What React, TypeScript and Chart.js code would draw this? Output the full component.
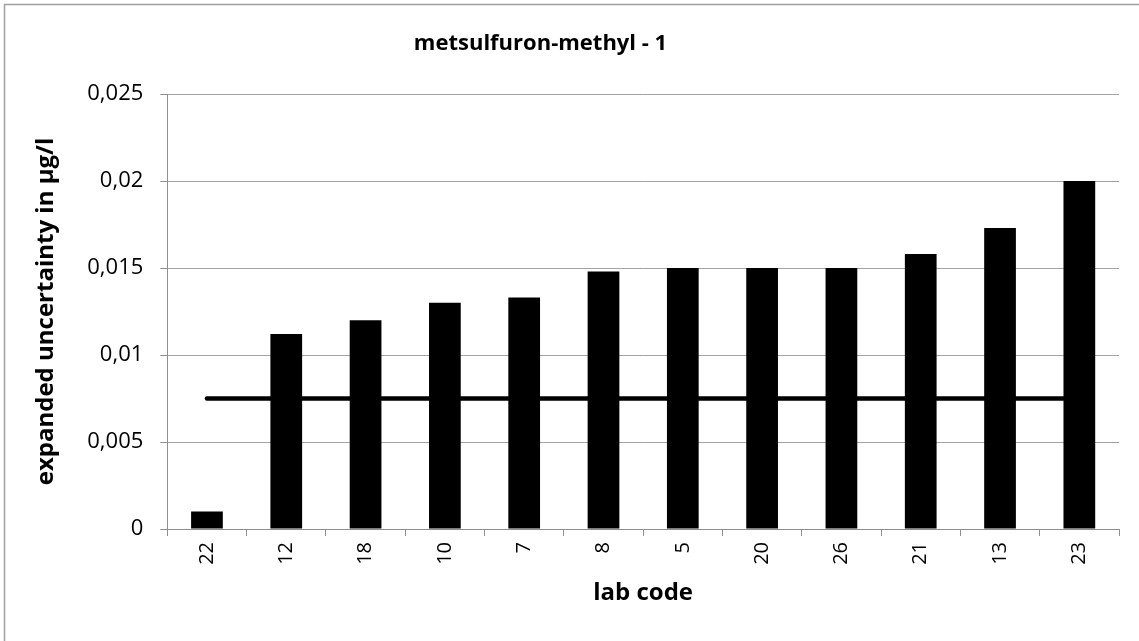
import { useEffect, useRef } from 'react';
import { Chart, registerables } from 'chart.js';

Chart.register(...registerables);

// Lab codes in ascending order of reported uncertainty
const labCodes = ['22', '12', '18', '10', '7', '8', '5', '20', '26', '21', '13', '23'];
// Expanded uncertainty reported by each lab (µg/l)
const expandedUncertainty = [0.001, 0.0112, 0.012, 0.013, 0.0133, 0.0148, 0.015, 0.015, 0.015, 0.0158, 0.0173, 0.02];
// Reference uncertainty level drawn as a horizontal line
const targetUncertainty = 0.0075;
const yTickValues = [0, 0.005, 0.01, 0.015, 0.02, 0.025];

const chartTitle = 'metsulfuron-methyl - 1';
const yAxisTitle = 'expanded uncertainty in µg/l';
const xAxisTitle = 'lab code';

const FONT = '"Open Sans", "DejaVu Sans", sans-serif';
const GRID = '#a3a3a3';
const AXIS = '#8f8f8f';

const formatTick = (v: number) =>
  v === 0 ? '0' : v.toFixed(3).replace(/0+$/, '').replace('.', ',');

const framePlugin = {
  id: 'frame',
  beforeDraw(chart: any) {
    const { ctx, width, height } = chart;
    ctx.save();
    ctx.strokeStyle = '#a0a0a0';
    ctx.lineWidth = 1.5;
    ctx.beginPath();
    ctx.moveTo(4.5, height);
    ctx.lineTo(4.5, 4.5);
    ctx.lineTo(width, 4.5);
    ctx.stroke();
    ctx.restore();
  },
};

const titlePlugin = {
  id: 'chartTitle',
  afterDraw(chart: any) {
    const { ctx } = chart;
    ctx.save();
    ctx.font = `bold 22px ${FONT}`;
    ctx.fillStyle = '#000';
    ctx.textAlign = 'center';
    ctx.textBaseline = 'alphabetic';
    ctx.fillText(chartTitle, 540.5, 50);
    ctx.restore();
  },
};

export default function App() {
  const canvasRef = useRef<HTMLCanvasElement | null>(null);

  useEffect(() => {
    document.body.style.margin = '0';
    const canvas = canvasRef.current;
    if (!canvas) return;

    const chart = new Chart(canvas, {
      type: 'bar',
      data: {
        labels: labCodes,
        datasets: [
          {
            type: 'bar',
            data: expandedUncertainty,
            backgroundColor: '#000000',
            borderWidth: 0,
            categoryPercentage: 1,
            barPercentage: 0.4,
            order: 0,
          },
          {
            type: 'line',
            data: labCodes.map(() => targetUncertainty),
            borderColor: '#000000',
            borderWidth: 4.5,
            borderCapStyle: 'round',
            pointRadius: 0,
            fill: false,
            order: 1,
          } as any,
        ],
      },
      options: {
        animation: false,
        responsive: true,
        maintainAspectRatio: false,
        layout: { padding: { top: 94, right: 20, bottom: 10, left: 10 } },
        plugins: {
          legend: { display: false },
          tooltip: { enabled: false },
          title: { display: false },
        },
        scales: {
          x: {
            grid: {
              offset: true,
              drawOnChartArea: false,
              drawTicks: true,
              tickLength: 7,
              tickColor: AXIS,
              lineWidth: 1,
            },
            border: { display: true, color: AXIS, width: 1 },
            ticks: {
              color: '#000',
              font: { family: FONT, size: 20 },
              minRotation: 90,
              maxRotation: 90,
              padding: 6,
              autoSkip: false,
            },
            title: {
              display: true,
              text: xAxisTitle,
              color: '#000',
              font: { family: FONT, size: 24, weight: 'bold' },
              padding: { top: 0, bottom: 23.6 },
            },
            afterFit(scale: any) {
              scale.height = 102;
            },
          },
          y: {
            min: 0,
            max: 0.025,
            afterBuildTicks(scale: any) {
              scale.ticks = yTickValues.map((value) => ({ value }));
            },
            grid: {
              color: GRID,
              lineWidth: 1,
              drawTicks: true,
              tickLength: 7,
              tickColor: AXIS,
            },
            border: { display: true, color: AXIS, width: 1 },
            ticks: {
              color: '#000',
              font: { family: FONT, size: 22 },
              padding: 17,
              callback: (v: any) => formatTick(Number(v)),
            },
            title: {
              display: true,
              text: yAxisTitle,
              color: '#000',
              font: { family: FONT, size: 24, weight: 'bold' },
              padding: { top: 21.6, bottom: 0 },
            },
            afterFit(scale: any) {
              scale.width = 157.3;
            },
          },
        },
      },
      plugins: [framePlugin, titlePlugin],
    });

    return () => chart.destroy();
  }, []);

  return (
    <div style={{ position: 'relative', width: 1139, height: 641, background: '#fff' }}>
      <canvas ref={canvasRef} />
    </div>
  );
}
